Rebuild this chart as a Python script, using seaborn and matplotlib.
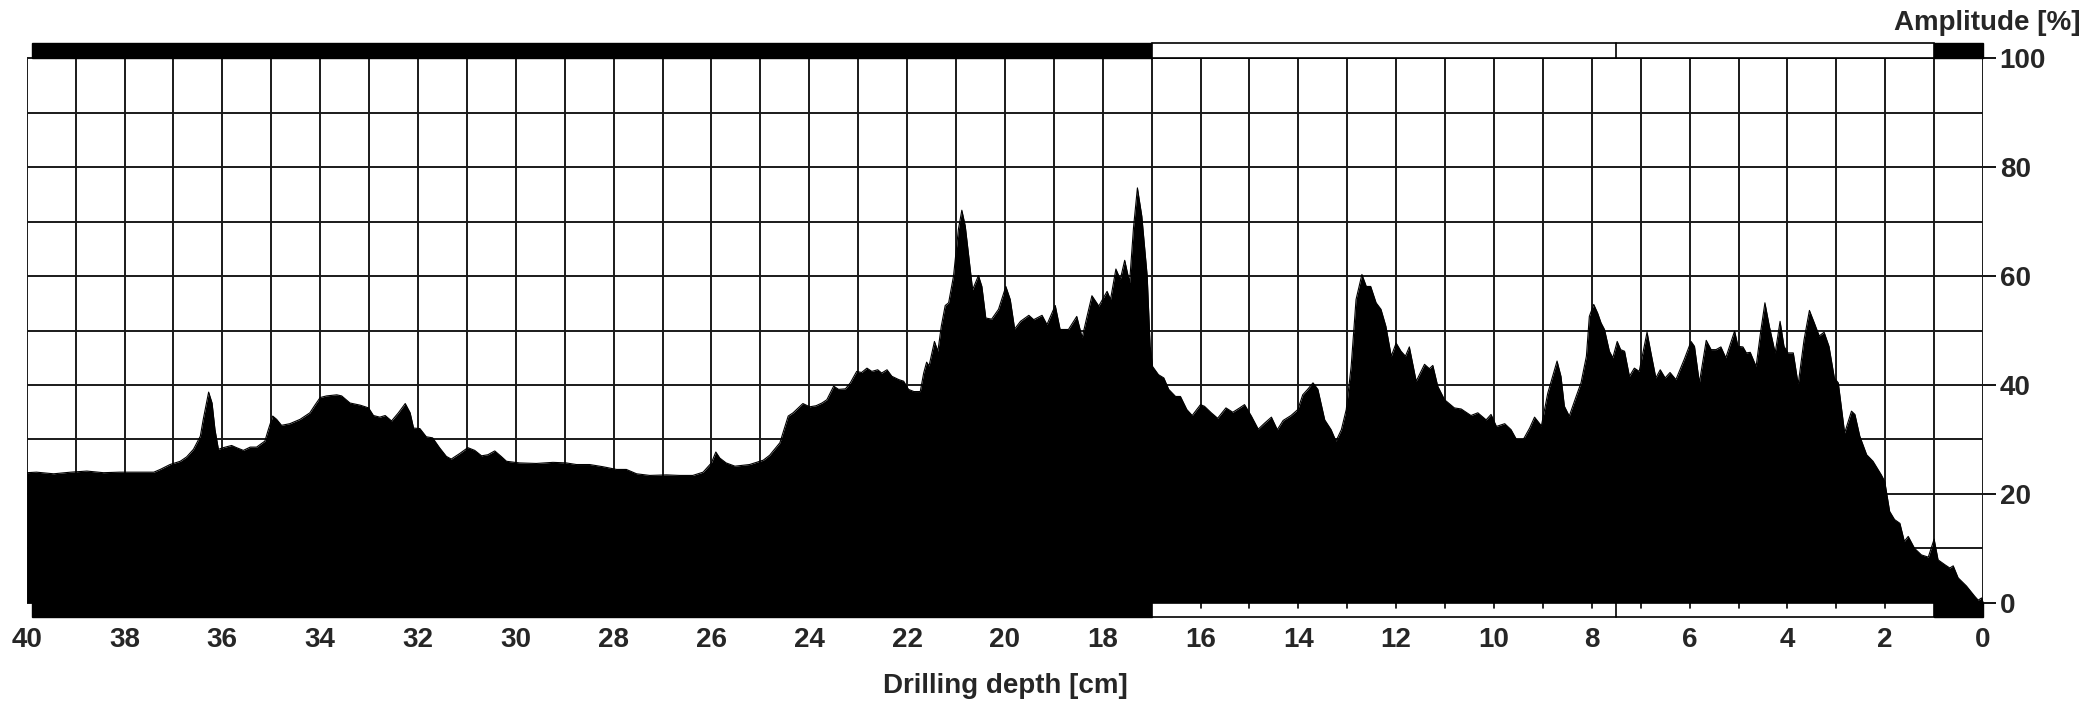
import numpy as np
import pandas as pd
import matplotlib
matplotlib.use("Agg")
import matplotlib.pyplot as plt
from matplotlib.patches import Rectangle
import seaborn as sns

# ---- data (depth in cm, amplitude in %) ----
depth = [
    40.0, 39.8, 39.45, 39.1, 38.77, 38.43, 38.1, 37.75, 37.4, 37.27, 37.07, 36.86, 36.73, 36.59,
    36.45, 36.39, 36.28, 36.21, 36.15, 36.08, 35.98, 35.81, 35.71, 35.57, 35.43, 35.3, 35.13,
    35.06, 34.97, 34.89, 34.79, 34.62, 34.41, 34.21, 34.1, 34.0, 33.87, 33.66, 33.56, 33.39,
    33.18, 33.01, 32.91, 32.78, 32.67, 32.54, 32.4, 32.26, 32.16, 32.09, 31.96,
    31.83, 31.7, 31.56, 31.42, 31.32, 31.15, 30.98, 30.84, 30.7, 30.57, 30.43, 30.3, 30.19,
    29.93, 29.58, 29.24, 28.97, 28.76, 28.49, 28.22, 27.94, 27.74, 27.53, 27.26, 26.92, 26.65,
    26.38, 26.17, 26.0, 25.91, 25.83, 25.7, 25.52, 25.22, 24.94, 24.81, 24.6, 24.43, 24.33,
    24.13, 23.99,
    23.86, 23.74, 23.64, 23.5, 23.4, 23.26, 23.16, 23.03, 22.93, 22.82, 22.72, 22.6, 22.52,
    22.41, 22.31, 22.17, 22.07, 21.97, 21.86, 21.73, 21.66, 21.6, 21.55, 21.44, 21.37, 21.3,
    21.22, 21.15, 21.05, 20.95, 20.88, 20.81, 20.73, 20.66, 20.54, 20.47, 20.39, 20.27, 20.13,
    19.98, 19.89, 19.8, 19.68, 19.51, 19.41, 19.24, 19.14, 18.97, 18.87, 18.7, 18.53, 18.42,
    18.32, 18.22, 18.08, 17.91, 17.84, 17.73, 17.64, 17.55, 17.45, 17.37, 17.29, 17.2, 17.09,
    17.03, 16.98, 16.86, 16.75, 16.65, 16.51, 16.41, 16.28, 16.17, 16.0,
    15.92, 15.78, 15.65, 15.48, 15.34, 15.2, 15.1, 14.96, 14.82, 14.69, 14.55, 14.43, 14.31,
    14.15, 14.01, 13.91, 13.81, 13.7, 13.6, 13.46, 13.33, 13.23, 13.12, 13.02, 12.92, 12.82,
    12.7, 12.61, 12.52, 12.41, 12.31, 12.21, 12.1, 12.0, 11.9, 11.81, 11.73, 11.59, 11.42,
    11.32, 11.25, 11.15, 11.01, 10.81, 10.67, 10.47, 10.33, 10.16, 10.06, 9.95, 9.78, 9.65,
    9.54, 9.4, 9.27, 9.17, 9.03, 8.9, 8.71, 8.63, 8.56, 8.46, 8.32, 8.22, 8.11, 8.05, 7.96,
    7.88, 7.81, 7.74, 7.64, 7.57, 7.48, 7.41, 7.33, 7.23, 7.13, 7.03, 6.87, 6.79, 6.69, 6.6,
    6.5, 6.4, 6.28, 6.11, 5.97, 5.9, 5.8, 5.66, 5.56, 5.46, 5.36, 5.26, 5.08, 5.01, 4.91,
    4.84, 4.76, 4.64, 4.55, 4.46, 4.37, 4.25, 4.15, 4.07, 3.99, 3.88, 3.78, 3.66, 3.55, 3.45,
    3.35, 3.25, 3.15, 3.04, 2.96, 2.83, 2.69, 2.62, 2.52, 2.38, 2.25, 2.08, 2.01, 1.91, 1.81,
    1.7, 1.61, 1.53, 1.4, 1.26, 1.12, 1.0, 0.92, 0.78, 0.68, 0.61, 0.51, 0.34, 0.17, 0.1,
    0.03, 0.0,
]
amplitude = [
    23.9, 24.0, 23.7, 24.0, 24.2, 23.9, 24.0, 24.0, 24.0, 24.5, 25.4, 26.0, 26.8, 28.2,
    30.6, 33.7, 38.7, 36.7, 31.8, 28.2, 28.5, 28.9, 28.5, 28.0, 28.6, 28.6, 29.7,
    31.8, 34.3, 33.7, 32.6, 32.9, 33.7, 34.9, 36.4, 37.7, 38.0, 38.2, 38.0, 36.7,
    36.3, 35.8, 34.4, 34.1, 34.4, 33.4, 34.9, 36.6, 34.9, 32.1, 32.0,
    30.5, 30.3, 28.5, 26.9, 26.4, 27.4, 28.5, 28.0, 27.0, 27.2, 27.9, 26.9, 26.0,
    25.7, 25.6, 25.8, 25.7, 25.4, 25.4, 25.0, 24.5, 24.5, 23.7, 23.4, 23.5, 23.4,
    23.4, 24.0, 25.7, 27.7, 26.6, 25.7, 25.1, 25.4, 26.2, 27.1, 29.4, 34.3, 34.9,
    36.6, 36.0,
    36.2, 36.7, 37.3, 39.8, 39.2, 39.3, 40.4, 42.5, 42.3, 43.1, 42.5, 42.8, 42.2,
    42.8, 41.6, 41.0, 40.7, 39.2, 38.8, 38.8, 42.2, 44.2, 43.5, 48.0, 46.2, 50.8,
    54.6, 55.1, 60.0, 68.6, 72.1, 69.2, 63.0, 57.5, 60.1, 58.1, 52.3, 52.1, 53.9,
    58.1, 55.7, 50.3, 51.7, 52.8, 52.0, 52.8, 51.1, 54.6, 50.2, 50.2, 52.6, 48.7,
    52.6, 56.4, 54.5, 57.2, 55.7, 61.3, 59.4, 62.9, 58.8, 68.9, 76.2, 71.0, 60.0,
    47.1, 43.4, 41.9, 41.3, 39.2, 37.9, 37.9, 35.5, 34.4, 36.4,
    36.1, 34.9, 33.9, 35.8, 35.0, 35.8, 36.4, 34.3, 31.9, 33.0, 34.1, 31.8, 33.5,
    34.4, 35.5, 38.2, 39.2, 40.4, 39.2, 33.6, 31.8, 29.7, 31.8, 35.5, 43.4, 55.7,
    60.3, 58.1, 58.1, 55.1, 53.9, 50.8, 45.3, 47.7, 46.2, 45.3, 47.0, 40.7, 43.8,
    43.0, 43.6, 39.8, 37.3, 35.8, 35.6, 34.4, 34.9, 33.6, 34.6, 32.4, 32.9, 31.8,
    30.0, 30.0, 32.1, 34.1, 32.5, 38.5, 44.4, 41.6, 36.1, 34.3, 37.9, 40.4, 45.3, 52.6, 54.8,
    53.2, 51.4, 50.2, 46.2, 45.0, 48.0, 46.5, 46.2, 41.6, 43.1, 42.5, 49.7, 45.9, 41.3, 42.8,
    41.3, 42.3, 41.0, 44.7, 48.0, 47.1, 40.4, 48.2, 46.5, 46.5, 47.0, 45.0, 49.9, 47.1, 47.0,
    45.9, 46.0, 43.4, 49.6, 55.1, 50.8, 45.9, 51.7, 47.1, 45.9, 45.9, 40.1, 48.3, 53.7, 51.4,
    49.0, 49.7, 47.1, 41.3, 40.4, 31.2, 35.2, 34.6, 30.6, 27.2, 26.0, 23.5, 22.3, 16.8, 15.3,
    14.6, 11.3, 12.2, 10.0, 8.8, 8.4, 11.7, 7.9, 7.0, 6.4, 6.8, 4.6, 3.1, 1.2, 0.5,
    0.9, 0.3,
]

# scale bars (depth segments)
bar_black_segments = [(39.9, 17.0), (1.0, 0.0)]
bar_white_segment = (17.0, 1.0)
bar_divider = 7.5
x_major_ticks = list(range(0, 41, 2))
y_major_ticks = [0, 20, 40, 60, 80, 100]

df = pd.DataFrame({"depth": depth, "amplitude": amplitude})

sns.set_theme(style="white")
plt.rcParams["font.family"] = ["Liberation Sans", "DejaVu Sans"]
plt.rcParams["font.weight"] = "bold"

fig = plt.figure(figsize=(21.0, 7.03), dpi=100)
ax = fig.add_axes([0.01271, 0.1223, 0.9316, 0.8165])

Y0, Y1 = -2.6, 102.8
ax.set_xlim(40, 0)
ax.set_ylim(Y0, Y1)

GRID_C = "#1a1a1a"
GRID_W = 1.4

# grid lines
for xv in range(0, 41):
    ax.plot([xv, xv], [0, 100], color=GRID_C, lw=GRID_W, zorder=1, solid_capstyle="butt")
for yv in range(0, 101, 10):
    ax.plot([40, 0], [yv, yv], color=GRID_C, lw=GRID_W, zorder=1, solid_capstyle="butt")

# profile
ax.fill_between(df["depth"], 0, df["amplitude"], color="black", lw=0, zorder=3)
sns.lineplot(data=df, x="depth", y="amplitude", sort=False, color="black", lw=0.8,
             ax=ax, zorder=4)

# top and bottom scale bars
top_lo, top_hi = 100.0, Y1
bot_lo, bot_hi = Y0, 0.0
for (a, b) in bar_black_segments:
    for lo, hi in ((top_lo, top_hi), (bot_lo, bot_hi)):
        ax.add_patch(Rectangle((b, lo), a - b, hi - lo, facecolor="black",
                               edgecolor="black", lw=1.0, zorder=5, clip_on=False))
a, b = bar_white_segment
for lo, hi in ((top_lo, top_hi), (bot_lo, bot_hi)):
    ax.add_patch(Rectangle((b, lo), a - b, hi - lo, facecolor="white",
                           edgecolor="black", lw=1.2, zorder=5, clip_on=False))
    ax.plot([bar_divider, bar_divider], [lo, hi], color="black", lw=1.2, zorder=6,
            clip_on=False)
# small ticks inside bottom white bar
for xv in range(2, 17):
    ax.plot([xv, xv], [0, -0.9], color="black", lw=1.2, zorder=6, clip_on=False)

# spines / ticks
for s in ax.spines.values():
    s.set_visible(False)
ax.set_xticks(x_major_ticks)
ax.set_xticklabels([str(v) for v in x_major_ticks])
ax.tick_params(axis="x", length=0, pad=7, labelsize=20)
ax.yaxis.tick_right()
ax.set_yticks(y_major_ticks)
ax.set_yticklabels([str(v) for v in y_major_ticks])
ax.tick_params(axis="y", which="major", right=True, left=False, length=9, width=1.3,
               color="black", pad=3, labelsize=20)
for lab in ax.get_xticklabels() + ax.get_yticklabels():
    lab.set_fontweight("bold")
ax.set_xlabel("")
ax.set_ylabel("")
ax.grid(False)

fig.text(0.4786, 1 - 686 / 703, "Drilling depth [cm]", ha="center", va="center",
         fontsize=20, fontweight="bold")
fig.text(0.9905, 1 - 23 / 703, "Amplitude [%]", ha="right", va="center",
         fontsize=20, fontweight="bold")

fig.savefig("out.png", dpi=100, facecolor="white")
